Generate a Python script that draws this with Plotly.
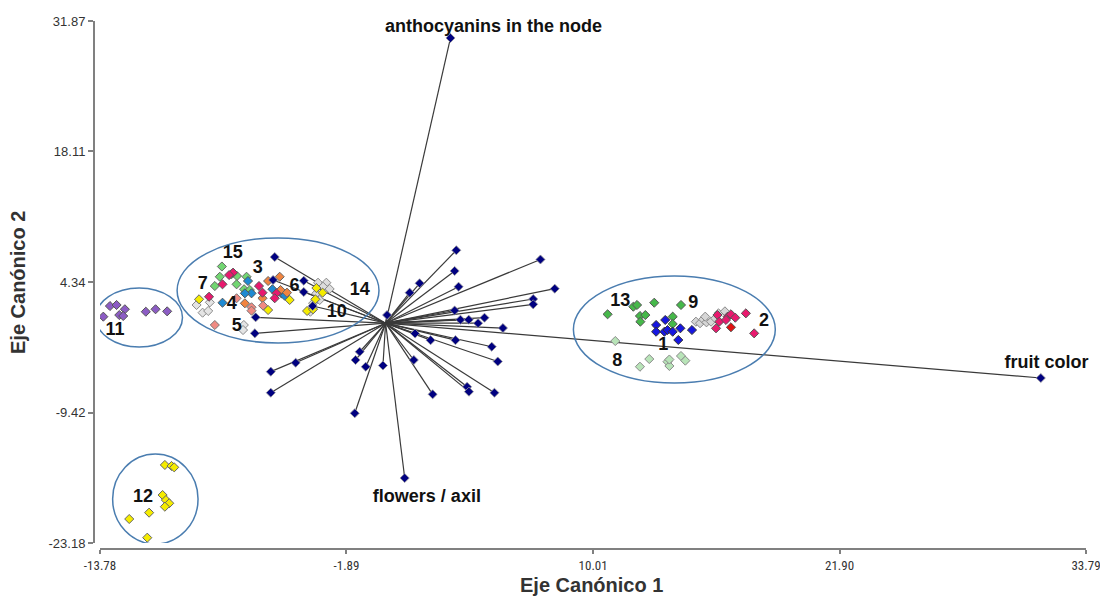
import plotly.graph_objects as go

# ---------------- data ----------------
# group point clouds (Eje Canónico 1, Eje Canónico 2)
g11_x = [-13.30, -12.98, -12.58, -13.62, -12.85, -12.66, -11.57, -11.10, -10.54]
g11_y = [1.81, 1.92, 1.47, 0.69, 0.86, 0.76, 1.21, 1.47, 1.25]

g12_x = [-10.65, -10.33, -10.20, -10.76, -10.60, -10.44, -10.65, -11.41, -12.37, -11.50]
g12_y = [-14.95, -15.06, -15.20, -18.12, -18.65, -18.99, -19.35, -19.98, -20.65, -22.62]

g15_x = [-7.90, -8.00, -8.24, -7.44, -7.17, -6.71, -7.19, -6.83, -6.55]
g15_y = [5.98, 4.90, 3.92, 5.16, 4.98, 4.90, 4.10, 3.58, 3.50]

g3_x = [-7.36, -7.55, -7.87, -8.52, -6.11, -5.94, -5.27, -5.35]
g3_y = [5.33, 5.08, 4.10, 2.79, 3.92, 3.22, 3.15, 2.63]

g4_x = [-6.64, -6.47, -6.79, -7.87, -5.46, -5.03, -4.87]
g4_y = [4.45, 3.15, 3.15, 2.16, 3.58, 3.15, 2.90]

g6_x = [-5.67, -5.11, -5.07, -5.94, -6.79, -4.76]
g6_y = [4.45, 4.90, 3.50, 2.63, 2.10, 3.22]

g5_x = [-6.47, -6.47, -5.91, -8.24, -7.19]
g5_y = [1.68, 1.32, 1.85, -0.19, 2.63]

g7_x = [-9.12, -8.48, -8.83, -8.56, -6.84, -6.88]
g7_y = [1.92, 2.20, 1.11, 1.29, -0.19, -0.72]

g14_x = [-3.26, -2.86, -3.02, -2.70, -3.34, -3.50, -3.18, -3.63]
g14_y = [4.27, 4.27, 3.85, 3.61, 3.15, 2.10, 2.45, 1.21]

g10_x = [-9.00, -5.67, -4.63, -3.39, -3.79, -3.50, -3.34, -3.04]
g10_y = [2.52, 1.39, 2.45, 2.52, 1.29, 1.47, 3.71, 3.22]

g13_x = [10.71, 11.95, 12.13, 12.96, 12.27, 12.53, 12.29, 14.25, 13.85, 13.85]
g13_y = [0.94, 1.74, 1.92, 2.16, 0.76, 0.86, 0.16, 1.92, 0.69, -0.08]

g1_x = [13.49, 13.05, 13.05, 13.45, 13.60, 13.85, 14.22, 14.78, 14.12]
g1_y = [0.34, -0.19, -0.90, -0.90, -0.72, -0.90, -0.54, -0.72, -1.77]

g9_x = [14.97, 15.17, 15.32, 15.48, 15.42, 15.70, 15.90, 16.06, 16.37]
g9_y = [0.16, 0.00, 0.41, 0.09, 0.69, 0.16, 0.52, 1.04, 1.25]

g2_x = [16.01, 16.10, 15.94, 16.50, 16.66, 16.87, 16.42, 17.38, 17.78]
g2_y = [0.86, 0.16, -0.54, 0.69, 0.94, 0.58, 0.34, 1.04, -1.07]

g2r_x = [16.66]
g2r_y = [-0.43]

g8_x = [11.08, 12.27, 12.72, 13.60, 13.69, 13.69, 14.25, 14.46]
g8_y = [-1.88, -4.59, -3.78, -4.06, -4.51, -3.83, -3.46, -3.95]

# variable vectors (end points; all start at origin)
vec_x = [3.13, 0.92, 31.61,
         3.41, 7.47, 3.33, 1.64, 3.52, 1.16, 8.16, 7.12, 7.12, 3.33, 0.07, 4.77,
         3.61, 4.01, 4.46, 5.66, 1.42, 2.17, 3.37, 5.12, 5.41, 1.36, -0.13, 3.93,
         4.02, 5.25, 2.27,
         -5.35, -5.43, -3.95, -3.95, -3.52, -6.27, -6.31, -1.25, -1.45, -0.96,
         -4.34, -5.54, -5.54, -1.49]
vec_y = [30.08, -16.33, -5.78,
         7.69, 6.72, 5.51, 4.21, 3.85, 3.22, 3.64, 2.55, 1.99, 1.34, 0.86, 0.58,
         0.37, 0.37, 0.00, -0.51, -1.09, -1.79, -1.79, -2.48, -4.04, -3.88, -4.46, -6.71,
         -7.22, -7.33, -7.50,
         6.98, 4.56, 4.48, 3.29, 1.81, 0.62, -1.07, -3.01, -3.88, -4.59,
         -4.17, -5.11, -7.33, -9.50]

vec_label_text = ["anthocyanins in the node", "flowers / axil", "fruit color"]
vec_label_x = [5.20, 1.99, 31.88]
vec_label_y = [31.21, -18.36, -4.30]

group_label_text = ["15", "3", "7", "6", "4", "5", "10", "14", "11", "12",
                    "13", "9", "2", "1", "8"]
group_label_x = [-7.37, -6.17, -8.82, -4.39, -7.42, -7.18, -2.36, -1.25, -13.06, -11.71,
                 11.32, 14.84, 18.26, 13.40, 11.18]
group_label_y = [7.30, 5.72, 4.03, 3.82, 2.02, -0.30, 1.08, 3.50, -0.72, -18.33,
                 2.24, 2.13, 0.23, -2.30, -3.99]

# ellipses around clusters: (x0, x1, y0, y1)
ell_x0 = [-13.98, -10.06, -13.17, 9.06]
ell_x1 = [-9.80, -0.32, -9.05, 18.80]
ell_y0 = [-2.51, -2.09, -23.29, -6.31]
ell_y1 = [3.71, 8.99, -13.79, 4.98]

x_ticks = [-13.78, -1.89, 10.01, 21.90, 33.79]
x_tick_text = ["-13.78", "-1.89", "10.01", "21.90", "33.79"]
y_ticks = [-23.18, -9.42, 4.34, 18.11, 31.87]
y_tick_text = ["-23.18", "-9.42", "4.34", "18.11", "31.87"]

# ---------------- figure ----------------
FONT = "Liberation Sans, Arial, sans-serif"
NARROW = "Liberation Sans Narrow, Arial Narrow, Roboto Condensed, Liberation Sans, Arial, sans-serif"
fig = go.Figure()

# vector lines from origin
lx, ly = [], []
for vx, vy in zip(vec_x, vec_y):
    lx += [0, vx, None]
    ly += [0, vy, None]
fig.add_trace(go.Scatter(x=lx, y=ly, mode="lines",
                         line=dict(color="#3a3a3a", width=1.2),
                         hoverinfo="skip", showlegend=False))

groups = [
    (g11_x, g11_y, "#8C5CC4", "#555555"),
    (g12_x, g12_y, "#F5EC00", "#666666"),
    (g7_x, g7_y, "#E4E4E4", "#8A8A8A"),
    (g14_x, g14_y, "#DCDCDC", "#8A8A8A"),
    (g15_x, g15_y, "#72D672", "#666666"),
    (g4_x, g4_y, "#1E8AD2", "#555555"),
    (g6_x, g6_y, "#F08440", "#666666"),
    (g5_x, g5_y, "#F08A82", "#777777"),
    (g3_x, g3_y, "#E8196E", "#555555"),
    (g10_x, g10_y, "#F5EC00", "#666666"),
    (g13_x, g13_y, "#46B84A", "#555555"),
    (g1_x, g1_y, "#1616E0", "#333333"),
    (g9_x, g9_y, "#D6D6D6", "#8A8A8A"),
    (g2_x, g2_y, "#E8196E", "#555555"),
    (g2r_x, g2r_y, "#E01010", "#555555"),
    (g8_x, g8_y, "#B8E4B8", "#8A8A8A"),
]
for gx, gy, col, edge in groups:
    fig.add_trace(go.Scatter(x=gx, y=gy, mode="markers",
                             marker=dict(symbol="diamond", size=7, color=col,
                                         line=dict(color=edge, width=1)),
                             hoverinfo="skip", showlegend=False))

# vector end points
fig.add_trace(go.Scatter(x=vec_x, y=vec_y, mode="markers",
                         marker=dict(symbol="diamond", size=7, color="#000080",
                                     line=dict(color="#9a9a9a", width=0.8)),
                         hoverinfo="skip", showlegend=False))

# vector labels
fig.add_trace(go.Scatter(x=vec_label_x, y=vec_label_y, mode="text",
                         text=[f"<b>{t}</b>" for t in vec_label_text],
                         textfont=dict(family=FONT, size=18, color="#111111"),
                         textposition="middle center", cliponaxis=False,
                         hoverinfo="skip", showlegend=False))

# group labels
fig.add_trace(go.Scatter(x=group_label_x, y=group_label_y, mode="text",
                         text=[f"<b>{t}</b>" for t in group_label_text],
                         textfont=dict(family=FONT, size=18, color="#111111"),
                         textposition="middle center", cliponaxis=False,
                         hoverinfo="skip", showlegend=False))

for x0, x1, y0, y1 in zip(ell_x0, ell_x1, ell_y0, ell_y1):
    fig.add_shape(type="circle", xref="x", yref="y", x0=x0, x1=x1, y0=y0, y1=y1,
                  line=dict(color="#4A7DB0", width=1.5), fillcolor="rgba(0,0,0,0)")

W, H = 1100, 596
ml, mr, mt, mb = 94, 14, 21, 47
pw, ph = W - ml - mr, H - mt - mb

fig.update_layout(
    width=W, height=H,
    margin=dict(l=ml, r=mr, t=mt, b=mb, autoexpand=False),
    plot_bgcolor="white", paper_bgcolor="white",
    font=dict(family=FONT, color="#333333"),
    xaxis=dict(domain=[6 / pw, 1], range=[x_ticks[0], x_ticks[-1]],
               anchor="free", position=0, automargin=False,
               tickvals=x_ticks, ticktext=x_tick_text,
               ticklabeloverflow="allow",
               showline=True, linecolor="#808080", linewidth=2,
               ticks="outside", ticklen=4, tickcolor="#808080", tickwidth=1.5,
               tickfont=dict(family=NARROW, size=13, color="#333333"),
               showgrid=False, zeroline=False),
    yaxis=dict(domain=[6 / ph, 1], range=[y_ticks[0], y_ticks[-1]],
               anchor="free", position=0, automargin=False,
               tickvals=y_ticks, ticktext=y_tick_text,
               ticklabeloverflow="allow",
               showline=True, linecolor="#808080", linewidth=2,
               ticks="outside", ticklen=5, tickcolor="#808080", tickwidth=1.5,
               tickfont=dict(size=13, color="#333333"),
               showgrid=False, zeroline=False),
    annotations=[
        dict(text="<b>Eje Canónico 1</b>", xref="paper", yref="paper",
             x=(591 - ml) / pw, y=(H - mb - 585) / ph, showarrow=False,
             xanchor="center", yanchor="middle",
             font=dict(family=FONT, size=20, color="#333333")),
        dict(text="<b>Eje Canónico 2</b>", xref="paper", yref="paper",
             x=(18 - ml) / pw, y=(H - mb - 283) / ph, showarrow=False,
             textangle=-90, xanchor="center", yanchor="middle",
             font=dict(family=FONT, size=20, color="#333333")),
    ],
)

fig.write_html("out.html")
